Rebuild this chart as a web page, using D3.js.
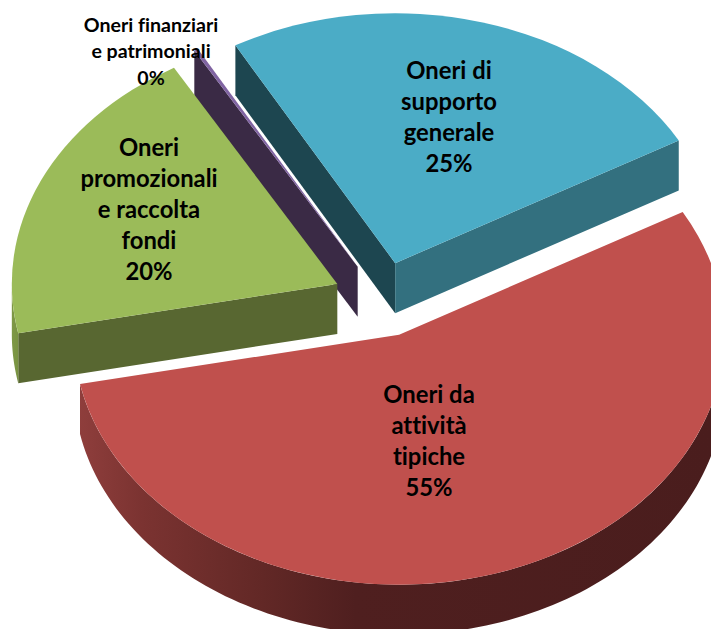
<!DOCTYPE html>
<html lang="it">
  <head>
    <meta charset="utf-8">
    <title>Oneri</title>
    <script src="https://cdn.jsdelivr.net/npm/d3@7"></script>
    <style>
      body { margin: 0; background: #fff; overflow: hidden; }
      svg { display: block; }
      text { font-family: Lato, "Open Sans", sans-serif; font-weight: 700; fill: #000; text-anchor: middle; font-variant-ligatures: none; }
    </style>
  </head>
  <body>
    <svg id="chart" width="711" height="629"></svg>
    <script>
    // data
    var categories = [
      ["Oneri di", "supporto", "generale"],
      ["Oneri da", "attività", "tipiche"],
      ["Oneri", "promozionali", "e raccolta", "fondi"],
      ["Oneri finanziari", "e patrimoniali"]
    ];
    var values = [25, 55, 19.8, 0.2];

    // colours, same order as the data
    var topColors = ["#4bacc6", "#c0504d", "#9bbb59", "#8064a2"];
    var startWall = ["#1d4650", null, "#586731", "#3a2a45"];
    var endWall = ["#33707f", null, null, null];
    var outerWall = [null, "url(#redWall)", "url(#greenWall)", null];

    // layout of the fake 3d pie
    var cx = 382, cy = 299.4, R = 325.5, tilt = 0.768, explode = 49, depth = 50;
    var rotation = -29.4 * Math.PI / 180;
    var labelX = [449, 429, 149, 151];
    var labelY = [71, 395, 148, 25];
    var labelStep = [31, 31, 31, 26.5];
    var labelSize = [23.8, 23.8, 23.8, 19.6];
    var drawOrder = [3, 0, 2, 1];

    var svg = d3.select("#chart");

    var defs = svg.append("defs");
    function gradient(id, stops) {
      var g = defs.append("linearGradient").attr("id", id)
        .attr("gradientUnits", "userSpaceOnUse")
        .attr("x1", 0).attr("x2", 711).attr("y1", 0).attr("y2", 0);
      stops.forEach(s => g.append("stop").attr("offset", s[0]).attr("stop-color", s[1]));
    }
    gradient("redWall", [[0.11, "#8f3e3c"], [0.2, "#7b3331"], [0.37, "#622826"], [0.5, "#4f1f1f"], [1, "#4a1d1d"]]);
    gradient("greenWall", [[0, "#87a24f"], [0.03, "#76903f"], [0.1, "#586731"]]);

    var pie = d3.pie().sort(null).value(d => d)
      .startAngle(rotation).endAngle(rotation + 2 * Math.PI);
    var slices = pie(values);
    var arc = d3.arc().innerRadius(0).outerRadius(R);
    var percent = d3.format(".0%");
    var total = d3.sum(values);
    var line = d3.line();

    // screen position of a point of the pie, z is the drop below the top face
    function project(o, angle, r, z) {
      return [o[0] + r * Math.sin(angle), o[1] - r * tilt * Math.cos(angle) + z];
    }

    function edgeWall(o, angle) {
      return line([project(o, 0, 0, 0), project(o, angle, R, 0), project(o, angle, R, depth), project(o, 0, 0, depth)]) + "Z";
    }

    // the outer rim shows only on the front half of the ellipse
    function rimWall(o, a0, a1) {
      var from = Math.max(a0, Math.PI / 2);
      var to = Math.min(a1, 3 * Math.PI / 2);
      if (to <= from) return null;
      var n = 120;
      var angles = d3.range(n + 1).map(i => from + (to - from) * i / n);
      var upper = angles.map(a => project(o, a, R, 0));
      var lower = angles.slice().reverse().map(a => project(o, a, R, depth));
      return line(upper.concat(lower)) + "Z";
    }

    var layers = svg.append("g");

    drawOrder.forEach(function(i) {
      var d = slices[i];
      var mid = (d.startAngle + d.endAngle) / 2;
      var o = [cx + explode * Math.sin(mid), cy - explode * tilt * Math.cos(mid)];
      var g = layers.append("g").attr("class", "slice");

      if (startWall[i] && Math.cos(d.startAngle - Math.PI / 2) < 0) {
        g.append("path").attr("d", edgeWall(o, d.startAngle)).attr("fill", startWall[i]);
      }
      if (endWall[i] && Math.cos(d.endAngle + Math.PI / 2) < 0) {
        g.append("path").attr("d", edgeWall(o, d.endAngle)).attr("fill", endWall[i]);
      }
      var rim = outerWall[i] && rimWall(o, d.startAngle, d.endAngle);
      if (rim) g.append("path").attr("d", rim).attr("fill", outerWall[i]);

      g.append("path")
        .attr("d", arc(d))
        .attr("transform", `translate(${o[0]},${o[1]}) scale(1,${tilt})`)
        .attr("fill", topColors[i]);
    });

    // labels go on top of everything
    categories.forEach(function(lines, i) {
      var rows = lines.concat(percent(values[i] / total));
      svg.append("text")
        .attr("class", "label")
        .style("font-size", labelSize[i] + "px")
        .selectAll("tspan")
        .data(rows)
        .enter().append("tspan")
          .attr("x", labelX[i])
          .attr("y", (r, j) => labelY[i] + j * labelStep[i])
          .attr("dy", "0.35em")
          .text(r => r);
    });
    </script>
  </body>
</html>
